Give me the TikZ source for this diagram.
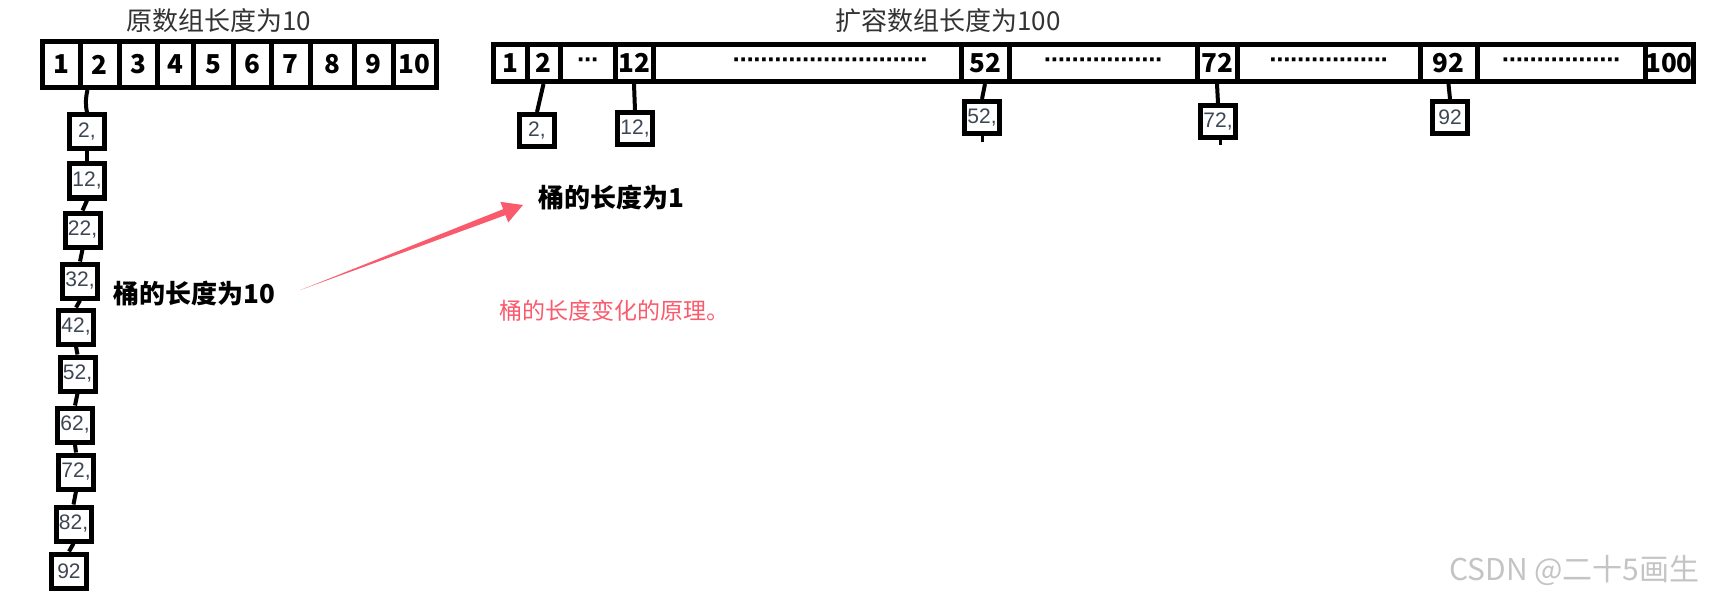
\documentclass[tikz,border=0pt]{standalone}
\usepackage{fontspec}
\setmainfont{Liberation Sans}
\newfontfamily\cjk{Noto Sans CJK SC}
\newfontfamily\dotfont{Liberation Sans}
\usetikzlibrary{calc}
\definecolor{numgray}{HTML}{3D4654}
\definecolor{titlegray}{HTML}{333333}
\definecolor{arrowred}{HTML}{F95A6C}
\definecolor{markgray}{HTML}{C4C4C4}
\newcommand\dotrow[1]{{\dotfont\bfseries\fontsize{13}{13}\selectfont\foreach\k in {1,...,#1}{·\kern-0.85pt}}}

\begin{document}
\begin{tikzpicture}[x=0.5pt,y=-0.5pt,
cell/.style={draw,line width=2.5pt,minimum height=23pt,inner sep=0pt,font=\cjk\bfseries\fontsize{13}{13}\selectfont},
bucket/.style={draw,line width=2.5pt,minimum width=17.5pt,minimum height=17pt,inner sep=0pt,font=\fontsize{10.5}{10.5}\selectfont,text=numgray},
link/.style={draw,line width=2pt},
title/.style={font=\cjk\fontsize{13}{13}\selectfont,text=titlegray},
note/.style={font=\cjk\bfseries\fontsize{13}{13}\selectfont,inner sep=0pt,anchor=west}]
\useasboundingbox (0,0) rectangle (1709,599);
\node[title] (oldtitle) at (219,21) {原数组长度为10};
\node[title] (newtitle) at (948,21) {扩容数组长度为100};
\foreach \a/\b/\t [count=\i] in {42/80/1,80/119/2,119/157/3,157/193/4,193/233/5,233/271/6,271/310/7,310/354/8,354/393/9,393/436/10}
  \node[cell,minimum width={(\b-\a)/2*1pt}] (L\i) at ({(\a+\b)/2},64.5) {\t};
\foreach \a/\b/\t [count=\i] in {493/527/1,527/560/2,560/615/{\dotrow{3}},615/653/12,653/961/{\hspace*{23pt}\dotrow{28}},961/1009/52,1009/1197/{\dotrow{17}},1197/1237/72,1237/1420/{\dotrow{17}},1420/1477/92,1477/1645/{\dotrow{17}},1645/1693/100}
  \node[cell,minimum height=18.5pt,minimum width={(\b-\a)/2*1pt}] (R\i) at ({(\a+\b)/2},63) {\t};
\foreach \n/\x/\y [count=\i] in {2/87/132,12/87/181,22/82.5/230,32/80/281,42/76/327,52/77.5/374,62/75/425,72/76/472,82/73.5/524}
  \node[bucket] (c\i) at (\x,\y) {\n,};
\node[bucket] (c10) at (69,571) {92};
\node[bucket,minimum height=16pt] (r2) at (537,130.5) {2,};
\node[bucket,minimum height=16pt] (r12) at (635,129) {12,};
\node[bucket,minimum height=16pt] (r52) at (982,117.5) {52,};
\node[bucket,minimum height=16pt] (r72) at (1218,121.5) {72,};
\node[bucket,minimum height=16pt] (r92) at (1450,117.5) {92};
\draw[link] ([xshift=-6pt]L2.south) to[bend right=12] (c1.north);
\foreach \i [count=\j from 2] in {1,...,9}
  \draw[link] (c\i.south) -- (c\j.north);
\foreach \a/\b in {2/r2,4/r12,6/r52,8/r72,10/r92}
  \draw[link] (R\a.south) -- (\b.north);
\coordinate (s52) at ($(r52.south)+(0,6)$);
\coordinate (s72) at ($(r72.south)+(2,5)$);
\draw[link,line width=1.5pt] (r52.south) -- (s52);
\draw[link,line width=1.5pt] ([xshift=1pt]r72.south) -- (s72);
\node[note] (b10) at (113,294) {桶的长度为10};
\node[note] (b1) at (538,198) {桶的长度为1};
\coordinate (atail) at ($(b10.east)+(25,-4)$);
\coordinate (atip) at ($(b1.west)+(-15,7)$);
\fill[arrowred] (atail) -- ($(atip)!10pt!(atail)!1.6pt!90:(atail)$) -- ($(atip)!10pt!(atail)!5.5pt!90:(atail)$) -- (atip)
  -- ($(atip)!10pt!(atail)!5.5pt!-90:(atail)$) -- ($(atip)!10pt!(atail)!1.6pt!-90:(atail)$) -- cycle;
\node[font=\cjk\fontsize{11.5}{11.5}\selectfont,text=arrowred,anchor=west,inner sep=0pt] (why) at (499,311) {桶的长度变化的原理。};
\node[font=\cjk\fontsize{15}{15}\selectfont,text=markgray,anchor=east,inner sep=0pt] (csdn) at (1700,570) {CSDN @二十5画生};
\end{tikzpicture}
\end{document}
